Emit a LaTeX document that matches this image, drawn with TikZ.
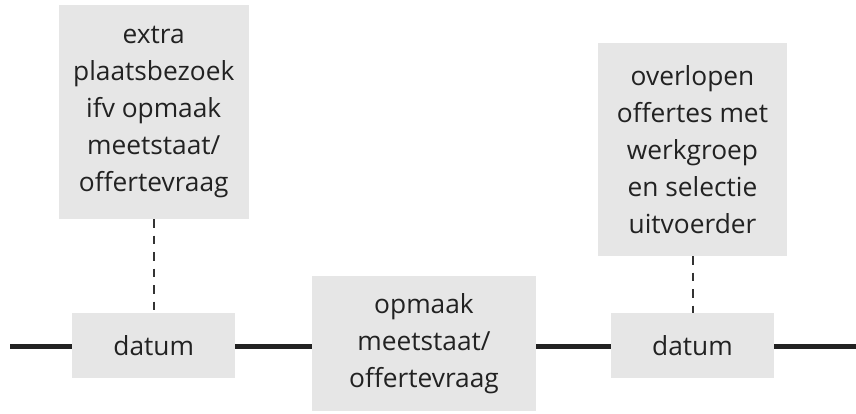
\documentclass[tikz,border=0pt]{standalone}
\usepackage{fontspec}
\setmainfont{Open Sans}
\definecolor{boxfill}{HTML}{E6E6E6}
\definecolor{ink}{HTML}{222222}
\definecolor{dashink}{HTML}{333333}
\begin{document}
\begin{tikzpicture}[x=1pt,y=-1pt,
  box/.style={fill=boxfill, text=ink, inner sep=0pt, align=center,
    font=\fontsize{26.3}{37}\selectfont},
  timeline/.style={draw=ink, line width=5pt},
  link/.style={draw=dashink, line width=2pt, dash pattern=on 8.5pt off 8pt}]
\useasboundingbox (0,0) rectangle (856,413);
\node[box, minimum width=190pt, minimum height=214pt] (b1) at (153.75,112) {extra\\plaatsbezoek\\ifv opmaak\\meetstaat/\\offertevraag};
\node[box, minimum width=163pt, minimum height=65pt] (d1) at (153.75,345.5) {datum};
\node[box, minimum width=224pt, minimum height=135pt] (m) at (424,343.5) {opmaak\\meetstaat/\\offertevraag};
\node[box, minimum width=189pt, minimum height=213pt] (b2) at (692.5,149.5) {overlopen\\offertes met\\werkgroep\\en selectie\\uitvoerder};
\node[box, minimum width=163pt, minimum height=65pt] (d2) at (692.5,345.5) {datum};
\coordinate (ls) at (10,346);
\coordinate (le) at (856,346);
\draw[timeline] (ls) -- (ls -| d1.west);
\draw[timeline] (ls -| d1.east) -- (ls -| m.west);
\draw[timeline] (ls -| m.east) -- (ls -| d2.west);
\draw[timeline] (ls -| d2.east) -- (le);
\draw[link] (b1.south) -- (d1.north);
\draw[link] (b2.south) -- (d2.north);
\end{tikzpicture}
\end{document}
